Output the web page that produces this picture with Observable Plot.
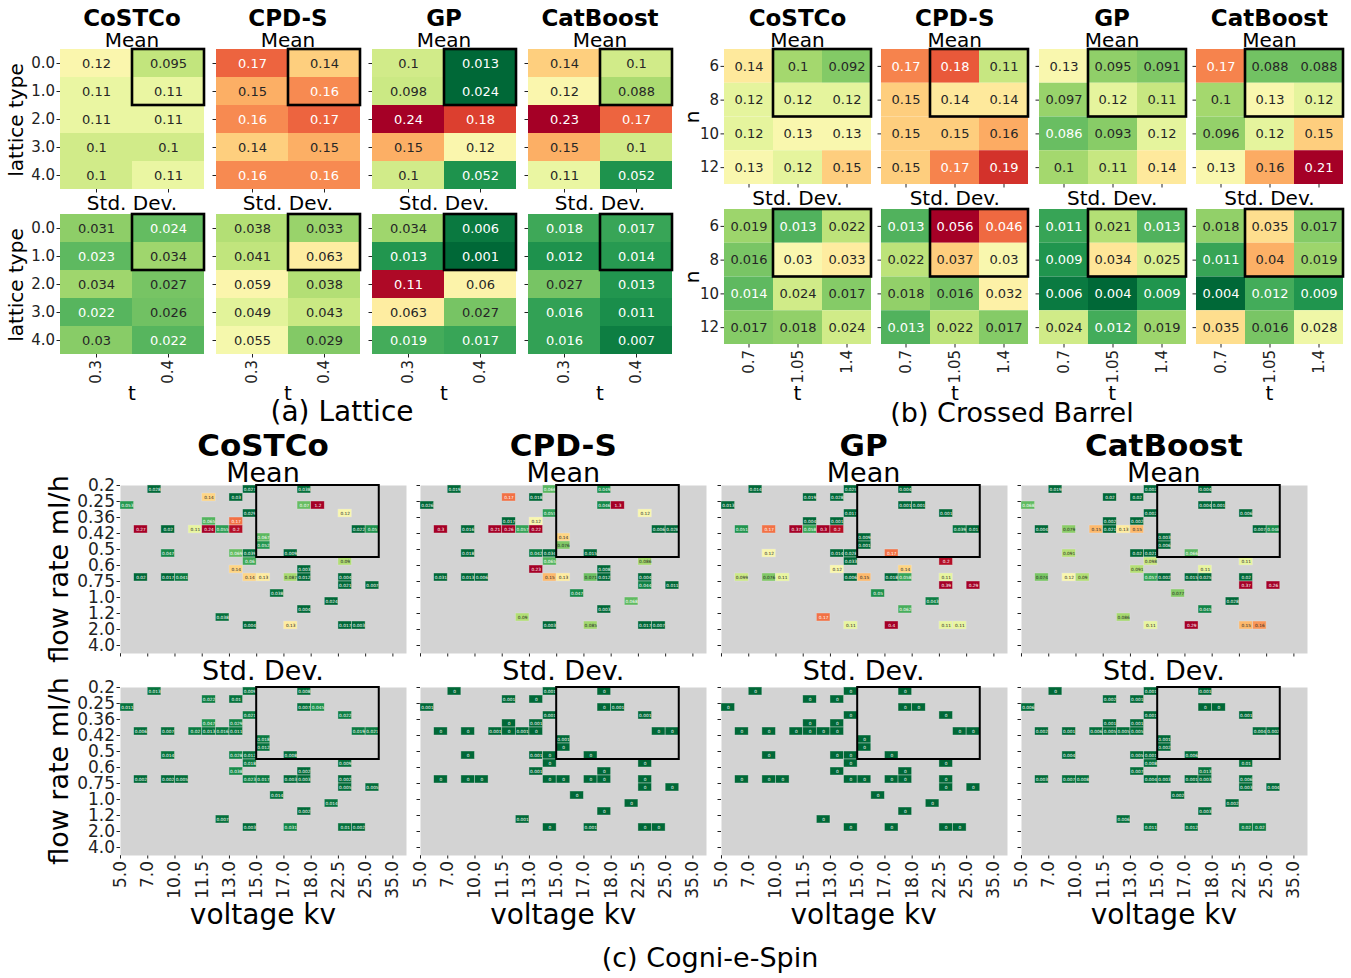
<!DOCTYPE html>
<html><head><meta charset="utf-8">
<script src="https://cdn.jsdelivr.net/npm/d3@7"></script>
<script src="https://cdn.jsdelivr.net/npm/@observablehq/plot@0.6"></script>
<style>
body{margin:0;background:#fff;}
#root{position:relative;width:1351px;height:978px;overflow:hidden;font-family:"DejaVu Sans",sans-serif;color:#000;}
.lbl{position:absolute;white-space:nowrap;line-height:1;transform:translate(-50%,-50%);}
.rot{transform:translate(-50%,-50%) rotate(-90deg);}
.panel{position:absolute;}
</style></head><body><div id="root"></div>
<script>
// ---------------- DATA ----------------
const models = ["CoSTCo", "CPD-S", "GP", "CatBoost"];

// (a) Lattice: rows = lattice type, cols = t
const latticeType = ["0.0", "1.0", "2.0", "3.0", "4.0"];
const latticeT = ["0.3", "0.4"];
const latticeMeanCoSTCo = [[0.12, 0.095], [0.11, 0.11], [0.11, 0.11], [0.1, 0.1], [0.1, 0.11]];
const latticeMeanCPDS = [[0.17, 0.14], [0.15, 0.16], [0.16, 0.17], [0.14, 0.15], [0.16, 0.16]];
const latticeMeanGP = [[0.1, 0.013], [0.098, 0.024], [0.24, 0.18], [0.15, 0.12], [0.1, 0.052]];
const latticeMeanCatBoost = [[0.14, 0.1], [0.12, 0.088], [0.23, 0.17], [0.15, 0.1], [0.11, 0.052]];
const latticeStdCoSTCo = [[0.031, 0.024], [0.023, 0.034], [0.034, 0.027], [0.022, 0.026], [0.03, 0.022]];
const latticeStdCPDS = [[0.038, 0.033], [0.041, 0.063], [0.059, 0.038], [0.049, 0.043], [0.055, 0.029]];
const latticeStdGP = [[0.034, 0.006], [0.013, 0.001], [0.11, 0.06], [0.063, 0.027], [0.019, 0.017]];
const latticeStdCatBoost = [[0.018, 0.017], [0.012, 0.014], [0.027, 0.013], [0.016, 0.011], [0.016, 0.007]];
const latticeBox = {x: [1, 2], y: [0, 2]};

// (b) Crossed Barrel: rows = n, cols = t
const barrelN = ["6", "8", "10", "12"];
const barrelT = ["0.7", "1.05", "1.4"];
const barrelMeanCoSTCo = [[0.14, 0.1, 0.092], [0.12, 0.12, 0.12], [0.12, 0.13, 0.13], [0.13, 0.12, 0.15]];
const barrelMeanCPDS = [[0.17, 0.18, 0.11], [0.15, 0.14, 0.14], [0.15, 0.15, 0.16], [0.15, 0.17, 0.19]];
const barrelMeanGP = [[0.13, 0.095, 0.091], [0.097, 0.12, 0.11], [0.086, 0.093, 0.12], [0.1, 0.11, 0.14]];
const barrelMeanCatBoost = [[0.17, 0.088, 0.088], [0.1, 0.13, 0.12], [0.096, 0.12, 0.15], [0.13, 0.16, 0.21]];
const barrelStdCoSTCo = [[0.019, 0.013, 0.022], [0.016, 0.03, 0.033], [0.014, 0.024, 0.017], [0.017, 0.018, 0.024]];
const barrelStdCPDS = [[0.013, 0.056, 0.046], [0.022, 0.037, 0.03], [0.018, 0.016, 0.032], [0.013, 0.022, 0.017]];
const barrelStdGP = [[0.011, 0.021, 0.013], [0.009, 0.034, 0.025], [0.006, 0.004, 0.009], [0.024, 0.012, 0.019]];
const barrelStdCatBoost = [[0.018, 0.035, 0.017], [0.011, 0.04, 0.019], [0.004, 0.012, 0.009], [0.035, 0.016, 0.028]];
const barrelBox = {x: [1, 3], y: [0, 2]};

// (c) Cogni-e-Spin: 21 voltage columns x 21 flow-rate rows, labels on every other one
const voltageTicks = ["5.0", "7.0", "10.0", "11.5", "13.0", "15.0", "17.0", "18.0", "22.5", "25.0", "35.0"];
const flowTicks = ["0.2", "0.25", "0.36", "0.42", "0.5", "0.6", "0.75", "1.0", "1.2", "2.0", "4.0"];
const spinNumCols = 21, spinNumRows = 21;
const spinRow = [0,0,0, 1,1, 2,2,2, 3,3, 4,4, 5,5,5,5,5,5,5,5, 6, 7, 8,8,8,8, 9,9, 10,10, 11,11,11,11,11,11,11,11, 12,12, 13, 14, 15, 16, 17,17,17,17];
const spinCol = [2,9,13, 6,8, 0,13,14, 9,16, 6,8, 1,3,5,6,7,8,17,18, 10, 10, 3,8,9,12, 9,16, 8,13, 1,3,4,9,10,12,13,16, 16,18, 11, 15, 13, 7, 9,12,16,17];
const spinMeanCoSTCo = [0.028,0.027,0.038, 0.14,0.03, 0.053,0.07,1.2, 0.029,0.12, 0.065,0.17, 0.27,0.02,0.11,0.24,0.055,0.2,0.022,0.05, 0.067, 0.052, 0.047,0.069,0.039,0.009, 0.06,0.09, 0.14,0.003, 0.02,0.017,0.041,0.14,0.13,0.087,0.012,0.004, 0.021,0.007, 0.038, 0.024, 0.004, 0.038, 0.004,0.13,0.017,0.003];
const spinMeanCPDS = [0.019,0.066,0.049, 0.17,0.018, 0.026,0.046,1.3, 0.055,0.12, 0.017,0.12, 0.3,0.016,0.21,0.26,0.057,0.22,0.006,0.028, 0.14, 0.076, 0.018,0.042,0.034,0.015, 0.065,0.086, 0.23,0.008, 0.031,0.013,0.006,0.15,0.13,0.071,0.012,0.004, 0.044,0.011, 0.047, 0.068, 0.003, 0.09, 0.003,0.085,0.017,0.007];
const spinMeanGP = [0.014,0.025,0.004, 0.019,0.028, 0.013,0.001,0.001, 0.017,0.001, 0.004,0.001, 0.051,0.17,0.37,0.058,0.3,0.2,0.039,0.01, 0.009, 0.001, 0.12,0.014,0.028,0.17, 0.033,0.2, 0.12,0.14, 0.099,0.076,0.11,0.006,0.15,0.018,0.058,0.11, 0.39,0.29, 0.05, 0.043, 0.062, 0.17, 0.11,0.4,0.11,0.11];
const spinMeanCatBoost = [0.019,0.002,0.004, 0.02,0.02, 0.068,0.004,0.001, 0.002,0.006, 0.002,0.002, 0.004,0.079,0.15,0.021,0.13,0.15,0.007,0.048, 0.003, 0.006, 0.091,0.02,0.021,0.066, 0.098,0.11, 0.091,0.11, 0.074,0.12,0.09,0.057,0.002,0.015,0.025,0.02, 0.37,0.26, 0.077, 0.028, 0.045, 0.086, 0.11,0.29,0.15,0.16];
const spinStdCoSTCo = [0.013,0.009,0.008, 0.022,0.01, 0.011,0.007,0.045, 0.021,0.022, 0.047,0.029, 0.006,0.007,0.02,0.013,0.016,0.011,0.019,0.021, 0.018, 0.012, 0.014,0.028,0.012,0.008, 0.018,0.009, 0.038,0.002, 0.002,0.002,0.005,0.023,0.017,0.003,0.003,0.002, 0.005,0.005, 0.014, 0.014, 0.002, 0.007, 0.003,0.031,0.01,0.002];
const spinStdCPDS = [0,0.001,0, 0.001,0, 0.001,0,0.001, 0.001,0.001, 0,0.001, 0,0,0.001,0,0.001,0,0,0, 0.001, 0, 0,0.001,0,0, 0,0, 0.001,0, 0,0,0,0,0,0,0,0, 0,0, 0, 0, 0, 0.001, 0,0.001,0,0];
const spinStdGP = [0,0,0, 0,0, 0,0,0, 0,0, 0,0, 0,0,0,0,0,0,0,0, 0, 0, 0,0,0,0, 0,0, 0,0, 0,0,0,0,0,0,0,0, 0,0, 0, 0, 0, 0, 0,0,0,0];
const spinStdCatBoost = [0,0.001,0.001, 0.002,0.001, 0.006,0,0, 0.001,0.001, 0.001,0.001, 0.002,0.001,0.006,0.005,0.005,0.005,0.004,0.002, 0.001, 0.002, 0.004,0.005,0.001,0.006, 0.008,0.01, 0.007,0.013, 0.003,0.007,0.008,0.004,0.003,0.001,0.003,0.006, 0.003,0.004, 0.002, 0.002, 0.003, 0.006, 0.011,0.012,0.02,0.02];
const spinBox = {x: [10, 19], y: [0, 9]};

// ---------------- HELPERS ----------------
const root = document.getElementById("root");
function label(text, x, y, size, opts = {}) {
  const d = document.createElement("div");
  d.className = "lbl" + (opts.rotate ? " rot" : "");
  d.textContent = text;
  d.style.left = x + "px"; d.style.top = y + "px";
  d.style.fontSize = size + "px";
  if (opts.bold) d.style.fontWeight = "bold";
  root.appendChild(d);
}
function luminance(c) {
  const {r, g, b} = d3.rgb(c);
  const f = x => { x /= 255; return x <= 0.03928 ? x / 12.92 : Math.pow((x + 0.055) / 1.055, 2.4); };
  return 0.2126 * f(r) + 0.7152 * f(g) + 0.0722 * f(b);
}
function grid2cells(m) {
  const out = [];
  m.forEach((row, r) => row.forEach((v, c) => out.push({r, c, v})));
  return out;
}
function listCells(rows, cols, vals) {
  return vals.map((v, i) => ({r: rows[i], c: cols[i], v}));
}

function panel(o) {
  const ML = 80, MR = 6, MT = 6, MB = 80;
  const [a, b] = o.domain;
  const colorOf = v => d3.interpolateRdYlGn(1 - Math.max(0, Math.min(1, (v - a) / (b - a))));
  const dark = d => luminance(colorOf(d.v)) <= 0.408;
  const marks = [];
  if (o.gray) marks.push(Plot.frame({fill: "#d3d3d3", stroke: null}));
  marks.push(Plot.rect(o.cells, {
    x1: "c", x2: d => d.c + 1, y1: "r", y2: d => d.r + 1, fill: "v", inset: 0,
    stroke: o.cellStroke || null, strokeWidth: 0.7, strokeOpacity: 0.55
  }));
  const tx = {x: d => d.c + 0.5, y: d => d.r + 0.5, text: d => String(d.v), fontSize: o.cellFont, fontFamily: "DejaVu Sans"};
  marks.push(Plot.text(o.cells.filter(dark), {...tx, fill: "white"}));
  marks.push(Plot.text(o.cells.filter(d => !dark(d)), {...tx, fill: "#262626"}));
  if (o.box) marks.push(Plot.rect([o.box], {x1: d => d.x[0], x2: d => d.x[1], y1: d => d.y[0], y2: d => d.y[1], fill: "none", stroke: "black", strokeWidth: o.boxWidth}));
  const svg = Plot.plot({
    width: ML + o.w + MR, height: MT + o.h + MB,
    marginLeft: ML, marginRight: MR, marginTop: MT, marginBottom: MB,
    style: {background: "transparent", overflow: "visible", fontFamily: "DejaVu Sans", fontSize: o.tickFont + "px", color: "#222"},
    x: {domain: [0, o.nx], ticks: o.xTicks, tickFormat: o.showX ? (d => o.xLabels[o.xTicks.indexOf(d)]) : (() => ""), tickRotate: -90, tickSize: 3.5, tickPadding: 2, label: null},
    y: {domain: [o.ny, 0], ticks: o.yTicks, tickFormat: o.showY ? (d => o.yLabels[o.yTicks.indexOf(d)]) : (() => ""), tickSize: 3.5, tickPadding: 2, label: null},
    color: {type: "linear", scheme: "RdYlGn", reverse: true, domain: o.domain, clamp: true},
    marks
  });
  svg.classList.add("panel");
  svg.style.left = (o.left - ML) + "px";
  svg.style.top = (o.top - MT) + "px";
  root.appendChild(svg);
}

// ---------------- (a) Lattice ----------------
const latticeMeans = [latticeMeanCoSTCo, latticeMeanCPDS, latticeMeanGP, latticeMeanCatBoost];
const latticeStds = [latticeStdCoSTCo, latticeStdCPDS, latticeStdGP, latticeStdCatBoost];
const aX = latticeT.map((_, i) => i + 0.5), aY = latticeType.map((_, i) => i + 0.5);
models.forEach((m, i) => {
  const left = 60 + 156 * i, w = 144, cx = left + w / 2;
  const common = {nx: latticeT.length, ny: latticeType.length, left, w, h: 140, xTicks: aX, xLabels: latticeT, yTicks: aY, yLabels: latticeType, showY: i === 0, box: latticeBox, boxWidth: 2.6, cellFont: 13, tickFont: 15};
  panel({...common, cells: grid2cells(latticeMeans[i]), top: 49, domain: [0.037, 0.2], showX: false});
  panel({...common, cells: grid2cells(latticeStds[i]), top: 214, domain: [0.002, 0.112], showX: true});
  label(m, cx, 18, 23, {bold: true});
  label("Mean", cx, 40, 20);
  label("Std. Dev.", cx, 203, 20);
  label("t", cx, 393, 20);
});
label("lattice type", 16, 120, 20, {rotate: true});
label("lattice type", 16, 285, 20, {rotate: true});
label("(a) Lattice", 342, 412, 28);

// ---------------- (b) Crossed Barrel ----------------
const barrelMeans = [barrelMeanCoSTCo, barrelMeanCPDS, barrelMeanGP, barrelMeanCatBoost];
const barrelStds = [barrelStdCoSTCo, barrelStdCPDS, barrelStdGP, barrelStdCatBoost];
const bX = barrelT.map((_, i) => i + 0.5), bY = barrelN.map((_, i) => i + 0.5);
models.forEach((m, i) => {
  const left = 724 + 157.3 * i, w = 147, cx = left + w / 2;
  const common = {nx: barrelT.length, ny: barrelN.length, left, w, h: 135, xTicks: bX, xLabels: barrelT, yTicks: bY, yLabels: barrelN, showY: i === 0, box: barrelBox, boxWidth: 2.6, cellFont: 13, tickFont: 15};
  panel({...common, cells: grid2cells(barrelMeans[i]), top: 49, domain: [0.055, 0.205], showX: false});
  panel({...common, cells: grid2cells(barrelStds[i]), top: 209, domain: [0.004, 0.056], showX: true});
  label(m, cx, 18, 23, {bold: true});
  label("Mean", cx, 40, 20);
  label("Std. Dev.", cx, 198, 20);
  label("t", cx, 393, 20);
});
label("n", 692, 117, 20, {rotate: true});
label("n", 692, 277, 20, {rotate: true});
label("(b) Crossed Barrel", 1012, 412, 27);

// ---------------- (c) Cogni-e-Spin ----------------
const spinMeans = [spinMeanCoSTCo, spinMeanCPDS, spinMeanGP, spinMeanCatBoost];
const spinStds = [spinStdCoSTCo, spinStdCPDS, spinStdGP, spinStdCatBoost];
const cX = voltageTicks.map((_, i) => 2 * i), cY = flowTicks.map((_, i) => 2 * i);
models.forEach((m, i) => {
  const left = 120 + 300.3 * i, w = 286, cx = left + w / 2;
  const common = {nx: spinNumCols, ny: spinNumRows, left, w, h: 168, xTicks: cX, xLabels: voltageTicks, yTicks: cY, yLabels: flowTicks, showY: i === 0, box: spinBox, boxWidth: 2, cellFont: 4.3, tickFont: 17, gray: true, cellStroke: "#e6e6e6"};
  panel({...common, cells: listCells(spinRow, spinCol, spinMeans[i]), top: 485, domain: [0.035, 0.205], showX: false});
  panel({...common, cells: listCells(spinRow, spinCol, spinStds[i]), top: 687, domain: [0, 0.5], showX: true});
  label(m, cx, 445, 31, {bold: true});
  label("Mean", cx, 472, 27);
  label("Std. Dev.", cx, 670, 27);
  label("voltage kv", cx, 915, 28);
});
label("flow rate ml/h", 58, 569, 27, {rotate: true});
label("flow rate ml/h", 58, 771, 27, {rotate: true});
label("(c) Cogni-e-Spin", 710, 957, 27);
</script></body></html>
